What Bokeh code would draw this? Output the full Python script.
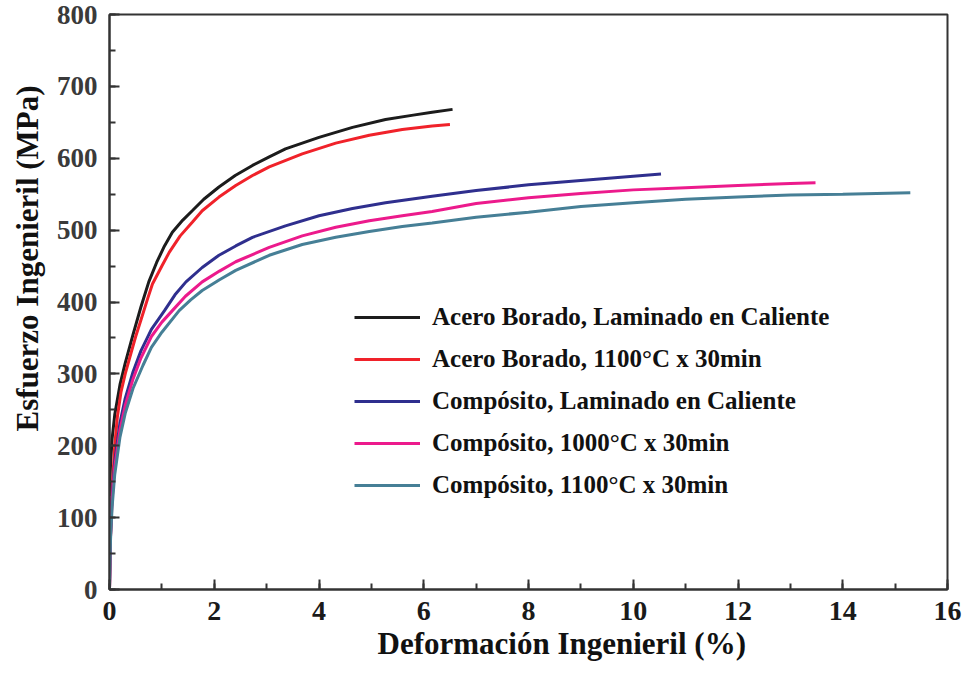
from bokeh.plotting import figure
from bokeh.models import Range1d, SingleIntervalTicker, Legend, LegendItem, Title
from bokeh.embed import file_html
from bokeh.resources import INLINE

# ---- data ----
series_names = [
    "Acero Borado, Laminado en Caliente",
    "Acero Borado, 1100°C x 30min",
    "Compósito, Laminado en Caliente",
    "Compósito, 1000°C x 30min",
    "Compósito, 1100°C x 30min",
]
colors = ["#1c1c1c", "#f0222a", "#2f2f8e", "#ec1a8c", "#467f96"]

black_x = [0, 0.02, 0.05, 0.1, 0.2, 0.3, 0.45, 0.6, 0.75, 0.9, 1.05, 1.2, 1.4, 1.58, 1.8, 2.09, 2.4, 2.73, 3.05, 3.36, 4.0, 4.64, 5.27, 5.8, 6.16, 6.55]
black_y = [130, 175, 210, 243, 285, 315, 355, 393, 428, 455, 478, 497, 514, 527, 543, 560, 576, 590, 602, 613, 629, 643, 654, 660, 664, 668]

red_x = [0, 0.02, 0.05, 0.1, 0.15, 0.22, 0.3, 0.38, 0.5, 0.6, 0.73, 0.82, 1.0, 1.14, 1.35, 1.58, 1.77, 2.09, 2.41, 2.73, 3.05, 3.68, 4.32, 4.96, 5.59, 6.16, 6.5]
red_y = [0, 75, 140, 200, 240, 275, 300, 321, 352, 375, 405, 425, 450, 469, 492, 511, 527, 546, 562, 576, 588, 606, 621, 632, 640, 645, 647]

blue_x = [0, 0.02, 0.05, 0.1, 0.2, 0.3, 0.45, 0.6, 0.8, 1.05, 1.25, 1.46, 1.77, 2.09, 2.41, 2.73, 3.36, 4.0, 4.64, 5.27, 6.16, 7, 8, 9, 10, 10.53]
blue_y = [0, 78, 130, 178, 232, 266, 303, 332, 362, 388, 410, 428, 448, 465, 478, 490, 506, 520, 530, 538, 547, 555, 563, 569, 575, 578]

pink_x = [0, 0.02, 0.05, 0.1, 0.2, 0.3, 0.45, 0.6, 0.8, 1.0, 1.2, 1.45, 1.77, 2.1, 2.41, 3.05, 3.68, 4.32, 4.96, 5.59, 6.16, 7, 8, 9, 10, 11, 12, 13, 13.48]
pink_y = [0, 75, 125, 170, 222, 256, 293, 322, 352, 372, 388, 408, 428, 443, 456, 476, 492, 504, 513, 520, 526, 537, 545, 551, 556, 559, 562, 565, 566]

teal_x = [0, 0.02, 0.05, 0.1, 0.2, 0.3, 0.45, 0.64, 0.8, 1.0, 1.33, 1.55, 1.77, 2.1, 2.41, 3.05, 3.68, 4.32, 4.96, 5.59, 6.16, 7, 8, 9, 10, 11, 12, 13, 14, 15.29]
teal_y = [0, 70, 115, 160, 212, 245, 280, 312, 337, 358, 388, 403, 416, 431, 444, 465, 480, 490, 498, 505, 510, 518, 525, 533, 538, 543, 546, 549, 550, 552]

xs = [black_x, red_x, blue_x, pink_x, teal_x]
ys = [black_y, red_y, blue_y, pink_y, teal_y]

x_title = "Deformación Ingenieril (%)"
y_title = "Esfuerzo Ingenieril (MPa)"

FONT = "Liberation Serif"

p = figure(width=964, height=665, output_backend="svg", toolbar_location=None,
           x_range=Range1d(0, 16), y_range=Range1d(0, 800))
p.min_border_left = 109
p.min_border_right = 17
p.min_border_top = 14
p.min_border_bottom = 75
p.background_fill_color = "white"
p.border_fill_color = "white"
p.grid.visible = False
p.outline_line_color = "#333333"
p.outline_line_width = 2

p.xaxis.ticker = SingleIntervalTicker(interval=2, num_minor_ticks=2)
p.yaxis.ticker = SingleIntervalTicker(interval=100, num_minor_ticks=2)
for ax in (p.xaxis[0], p.yaxis[0]):
    ax.axis_line_color = "#333333"
    ax.axis_line_width = 2
    ax.major_tick_in = 10
    ax.major_tick_out = 0
    ax.minor_tick_in = 6
    ax.minor_tick_out = 0
    ax.major_tick_line_color = "#333333"
    ax.minor_tick_line_color = "#333333"
    ax.major_tick_line_width = 2
    ax.minor_tick_line_width = 2
    ax.major_label_text_font = FONT
    ax.major_label_text_font_style = "bold"
p.xaxis.major_label_standoff = 12
p.yaxis.major_label_standoff = 12
p.xaxis.major_label_text_font_size = "28px"
p.xaxis.major_label_text_color = "#1a1a1a"
p.yaxis.major_label_text_font_size = "27px"
p.yaxis.major_label_text_color = "#3a3a3a"

items = []
for name, c, x, y in zip(series_names, colors, xs, ys):
    r = p.line(x, y, line_color=c, line_width=3)
    items.append(LegendItem(label=name, renderers=[r]))

legend = Legend(items=items, location=(245, 90))
legend.background_fill_alpha = 0
legend.border_line_alpha = 0
legend.padding = 0
legend.margin = 0
legend.glyph_width = 66
legend.glyph_height = 20
legend.label_height = 20
legend.spacing = 14
legend.label_standoff = 12
legend.label_text_font = FONT
legend.label_text_font_style = "bold"
legend.label_text_font_size = "25px"
legend.label_text_color = "#111111"
p.add_layout(legend, "center")

yt = Title(text=y_title, align="left", offset=158, vertical_align="top",
           text_font=FONT, text_font_style="bold", text_font_size="31px",
           text_color="#111111", standoff=14)
p.add_layout(yt, "left")
xt = Title(text=x_title, align="left", offset=268, vertical_align="top",
           text_font=FONT, text_font_style="bold", text_font_size="31px",
           text_color="#111111", standoff=6, text_line_height=0.75)
p.add_layout(xt, "below")

open("out.html", "w").write(file_html(p, INLINE))
